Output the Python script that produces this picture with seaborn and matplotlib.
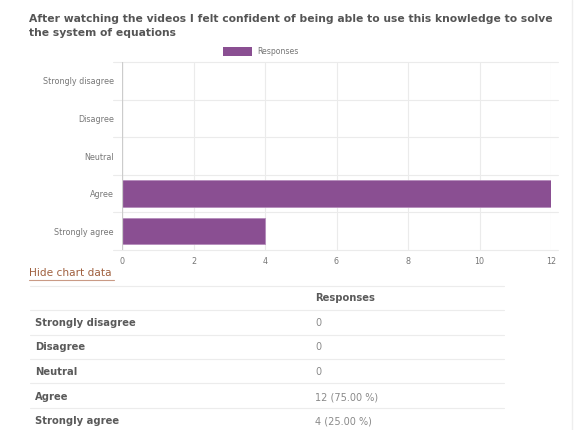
import matplotlib
matplotlib.use("Agg")
import matplotlib.pyplot as plt
import seaborn as sns
import pandas as pd
from matplotlib.patches import Rectangle
from matplotlib.lines import Line2D

# Survey data
categories = ["Strongly disagree", "Disagree", "Neutral", "Agree", "Strongly agree"]
responses = [0, 0, 0, 12, 4]
table_values = ["0", "0", "0", "12 (75.00 %)", "4 (25.00 %)"]
x_ticks = [0, 2, 4, 6, 8, 10, 12]

title = ("After watching the videos I felt confident of being able to use this knowledge to solve\n"
         "the system of equations")

sns.set_theme(style="white")
plt.rcParams["font.family"] = ["DejaVu Sans"]

W, H = 578, 430
fig = plt.figure(figsize=(W / 100, H / 100), dpi=100)
fig.patch.set_facecolor("white")

def fx(px):
    return px / W

def fy(py):
    return 1 - py / H

bar_color = "#8a4f92"
df = pd.DataFrame({"category": categories, "responses": responses})

ax = fig.add_axes([fx(122), fy(250), fx(551) - fx(122), fy(62) - fy(250)])
sns.barplot(data=df, y="category", x="responses", order=categories, orient="h",
            color=bar_color, saturation=1, width=0.70, edgecolor="#b58cbb",
            linewidth=0.6, ax=ax)
ax.set_xlim(0, 12)
ax.set_ylim(len(categories) - 0.5, -0.5)
ax.set_xticks(x_ticks)
ax.set_xticklabels([str(t) for t in x_ticks])
ax.set_xlabel("")
ax.set_ylabel("")
ax.tick_params(axis="both", length=0, labelsize=5.8, labelcolor="#777777")
ax.tick_params(axis="x", pad=5)
ax.tick_params(axis="y", pad=6)
for s in ax.spines.values():
    s.set_visible(False)

# vertical grid
for t in x_ticks:
    ax.axvline(t, color="#ebebeb", lw=0.8, zorder=0)
ax.axvline(0, color="#cccccc", lw=0.9, zorder=3)
# horizontal separators between categories, slightly wider than the plot
for b in [i - 0.5 for i in range(len(categories) + 1)]:
    ax.add_line(Line2D([-0.25, 12.2], [b, b], color="#ebebeb", lw=0.8,
                       zorder=0, clip_on=False))

# Title
fig.text(fx(29), fy(26), title, fontsize=7.75, fontweight="bold", color="#555555",
         ha="left", va="center", linespacing=1.55)

# Legend
fig.patches.append(Rectangle((fx(223), fy(56)), fx(252) - fx(223), fy(47) - fy(56),
                             transform=fig.transFigure, facecolor=bar_color,
                             edgecolor="none"))
fig.text(fx(257), fy(52), "Responses", fontsize=5.6, color="#777777",
         ha="left", va="center")

# "Hide chart data" link
fig.text(fx(29), fy(273), "Hide chart data", fontsize=7.6, color="#a0603f",
         ha="left", va="center")
fig.add_artist(Line2D([fx(29), fx(114)], [fy(279.5), fy(279.5)], color="#c99a85",
                      lw=0.8, transform=fig.transFigure))

# Data table
row_lines = [286, 310, 335, 359, 383, 408]
for yl in row_lines:
    fig.add_artist(Line2D([fx(30), fx(504)], [fy(yl), fy(yl)], color="#ececec",
                          lw=0.8, transform=fig.transFigure))
fig.text(fx(315), fy(298), "Responses", fontsize=7.2, fontweight="bold",
         color="#5a5a5a", ha="left", va="center")
row_y = [323, 347, 372, 397, 421]
for cat, val, yy in zip(categories, table_values, row_y):
    fig.text(fx(35), fy(yy), cat, fontsize=7.2, fontweight="bold", color="#5a5a5a",
             ha="left", va="center")
    fig.text(fx(315), fy(yy), val, fontsize=7, color="#8a8a8a",
             ha="left", va="center")

# faint frame edge on the right
fig.add_artist(Line2D([fx(572), fx(572)], [fy(0), fy(430)], color="#eeeeee",
                      lw=1, transform=fig.transFigure))

fig.savefig("out.png", dpi=100, facecolor="white")
